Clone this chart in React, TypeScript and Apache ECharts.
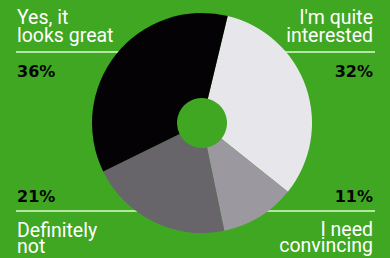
import React, { useEffect, useRef } from "react";
import * as echarts from "echarts";

const categories = ["I'm quite interested", "I need convincing", "Definitely not", "Yes, it looks great"];
const values = [32, 11, 21, 36];
const sliceColors = ["#e7e6eb", "#9b989f", "#67646a", "#040204"];

const labelLines = [
  ["I'm quite", "interested"],
  ["I need", "convincing"],
  ["Definitely", "not"],
  ["Yes, it", "looks great"],
];
const pctLabels = ["32%", "11%", "21%", "36%"];

const BG = "#3fa722";
const LINE = "#b3e6a0";

export default function App() {
  const ref = useRef<HTMLDivElement>(null);
  useEffect(() => {
    document.body.style.margin = "0";
    const chart = echarts.init(ref.current!, null, { renderer: "svg" });
    const nameFont = { fontFamily: "Roboto", fontSize: 19.5, fontWeight: "normal" as any, fill: "#ffffff" };
    const pctFont = { fontFamily: "DejaVu Sans", fontSize: 16, fontWeight: "bold" as any, fill: "#050505", lineHeight: 16 };

    const blocks = [
      { i: 0, x: 373, align: "right", ny: 26.5, lh: 18, p: 71, ly: 52, lx1: 280, lx2: 375 },
      { i: 1, x: 373, align: "right", ny: 237.5, lh: 16.5, p: 196, ly: 211, lx1: 262, lx2: 375 },
      { i: 2, x: 17, align: "left", ny: 238, lh: 16, p: 196, ly: 211, lx1: 16, lx2: 140 },
      { i: 3, x: 17, align: "left", ny: 26.5, lh: 18, p: 71, ly: 52, lx1: 16, lx2: 124 },
    ];
    const graphic: any[] = [];
    blocks.forEach((b) => {
      graphic.push({
        type: "line",
        z: -1,
        shape: { x1: b.lx1, y1: b.ly, x2: b.lx2, y2: b.ly },
        style: { stroke: LINE, lineWidth: 2 },
      });
      graphic.push({
        type: "text",
        x: b.x,
        y: b.ny,
        style: {
          ...nameFont,
          lineHeight: b.lh,
          text: labelLines[b.i].join("\n"),
          align: b.align,
          verticalAlign: "middle",
        },
      });
      graphic.push({
        type: "text",
        x: b.x,
        y: b.p,
        style: { ...pctFont, text: pctLabels[b.i], align: b.align, verticalAlign: "middle" },
      });
    });

    chart.setOption({
      animation: false,
      backgroundColor: BG,
      graphic: { elements: graphic },
      series: [
        {
          type: "pie",
          z: 5,
          center: [202, 123],
          radius: [25, 110],
          startAngle: 76.5,
          clockwise: true,
          label: { show: false },
          labelLine: { show: false },
          emphasis: { disabled: true },
          itemStyle: { borderWidth: 0 },
          data: categories.map((c, i) => ({ name: c, value: values[i], itemStyle: { color: sliceColors[i] } })),
        },
      ],
    });
    return () => chart.dispose();
  }, []);
  return <div ref={ref} style={{ width: 390, height: 258 }} />;
}
